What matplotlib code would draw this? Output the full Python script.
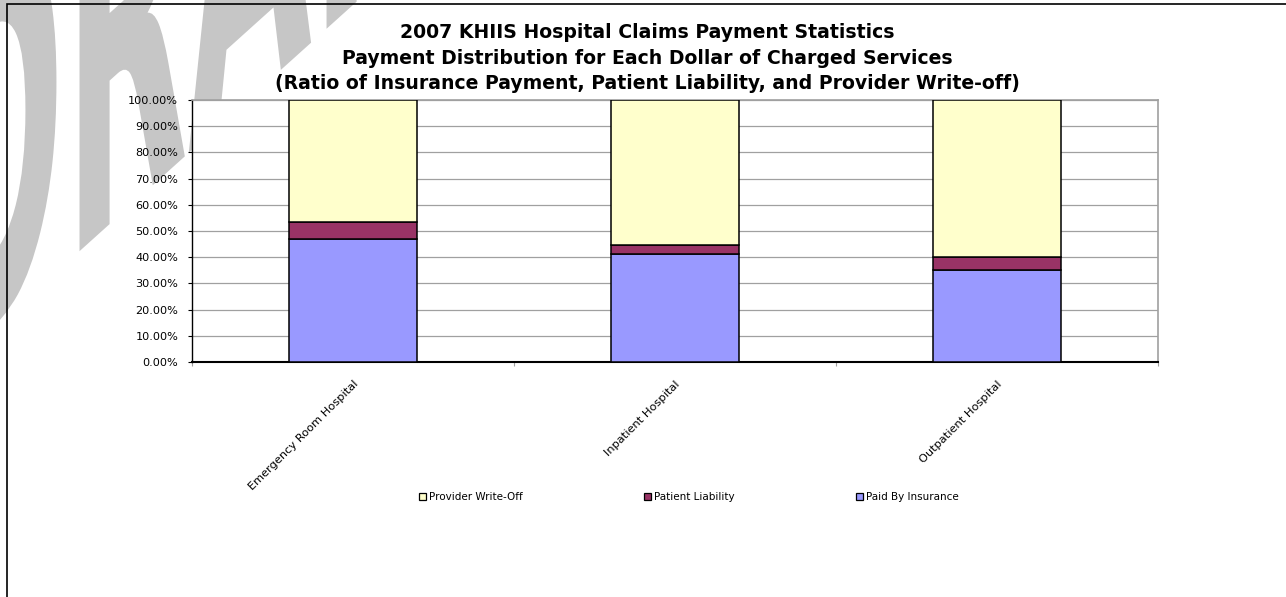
import matplotlib
matplotlib.use("Agg")
import matplotlib.pyplot as plt
import numpy as np
from matplotlib.patches import Patch, Rectangle, PathPatch
from matplotlib.textpath import TextPath
from matplotlib.font_manager import FontProperties
from matplotlib.ticker import PercentFormatter, FixedLocator
import matplotlib.transforms as mtrans

plt.rcParams['font.family'] = ['DejaVu Sans']

# ---- data ----
categories = ["Emergency Room Hospital", "Inpatient Hospital", "Outpatient Hospital"]
paid_by_insurance = [0.468, 0.414, 0.353]
patient_liability = [0.067, 0.032, 0.048]
provider_write_off = [0.465, 0.554, 0.599]
title_lines = ["2007 KHIIS Hospital Claims Payment Statistics",
               "Payment Distribution for Each Dollar of Charged Services",
               "(Ratio of Insurance Payment, Patient Liability, and Provider Write-off)"]
legend_labels = ["Provider Write-Off", "Patient Liability", "Paid By Insurance"]

c_write = "#FFFFCC"
c_pat = "#993366"
c_paid = "#9999FF"

W, H = 1286, 597
fig = plt.figure(figsize=(W / 100, H / 100), dpi=100)
fig.patch.set_facecolor("white")

# ---- DRAFT watermark (decorative) ----
tp = TextPath((0, 0), "DRAFT", size=1, prop=FontProperties(family="DejaVu Sans", weight="bold"))
tr = mtrans.Affine2D().scale(160, 520).skew_deg(0, 42).translate(-68, 213)
wm = PathPatch(tr.transform_path(tp), facecolor="#c6c6c6", edgecolor="none",
               transform=mtrans.IdentityTransform(), zorder=0)
fig.add_artist(wm)

# ---- outer chart border ----
border = Rectangle((7, -20), W + 40, H - 4 + 20, transform=mtrans.IdentityTransform(),
                   facecolor="none", edgecolor="black", lw=1.2, zorder=1)
fig.add_artist(border)

# ---- axes ----
ax = fig.add_axes([192 / W, (H - 362) / H, 966 / W, 262 / H])
ax.set_facecolor("white")
ax.set_zorder(2)

x = np.arange(len(categories))
bw = 0.4
paid = np.array(paid_by_insurance)
pat = np.array(patient_liability)
wo = np.array(provider_write_off)
ax.bar(x, paid, bw, color=c_paid, edgecolor="black", lw=1.1, zorder=3)
ax.bar(x, pat, bw, bottom=paid, color=c_pat, edgecolor="black", lw=1.1, zorder=3)
ax.bar(x, wo, bw, bottom=paid + pat, color=c_write, edgecolor="black", lw=1.1, zorder=3)

ax.set_xlim(-0.5, len(categories) - 0.5)
ax.set_ylim(0, 1)
ax.set_yticks(np.arange(0, 1.01, 0.1))
ax.yaxis.set_major_formatter(PercentFormatter(xmax=1, decimals=2))
ax.yaxis.grid(True, color="#a0a0a0", lw=0.9, zorder=0)
ax.set_axisbelow(True)
ax.tick_params(axis="y", labelsize=8.1, length=3, width=0.8, color="black", pad=7)

ax.set_xticks(x)
ax.set_xticklabels(categories, rotation=45, ha="right", rotation_mode="anchor", fontsize=8.2)
ax.tick_params(axis="x", length=0, pad=12)
ax.xaxis.set_minor_locator(FixedLocator(np.arange(-0.5, len(categories), 1.0)))
ax.tick_params(axis="x", which="minor", length=3, width=0.8, color="#a0a0a0")

for s in ["top", "right"]:
    ax.spines[s].set_color("#a0a0a0")
    ax.spines[s].set_linewidth(1.2)
ax.spines["left"].set_color("black")
ax.spines["left"].set_linewidth(1.0)
ax.spines["bottom"].set_color("black")
ax.spines["bottom"].set_linewidth(1.5)

# ---- title ----
baselines = [38, 63.5, 89]
for line, b in zip(title_lines, baselines):
    fig.text(647 / W, (H - b) / H, line, ha="center", va="baseline",
             fontsize=13.6, fontweight="bold", zorder=5)

# ---- legend ----
handles = [Patch(facecolor=c_write, edgecolor="black", lw=0.9),
           Patch(facecolor=c_pat, edgecolor="black", lw=0.9),
           Patch(facecolor=c_paid, edgecolor="black", lw=0.9)]
fig.legend(handles, legend_labels, ncol=3, loc="center left",
           bbox_to_anchor=(419 / W, (H - 497) / H), frameon=False, fontsize=7.5,
           handlelength=0.7, handleheight=0.7, handletextpad=0.3,
           columnspacing=11.6, borderpad=0, borderaxespad=0)

fig.savefig("out.png", dpi=100, facecolor="white")
